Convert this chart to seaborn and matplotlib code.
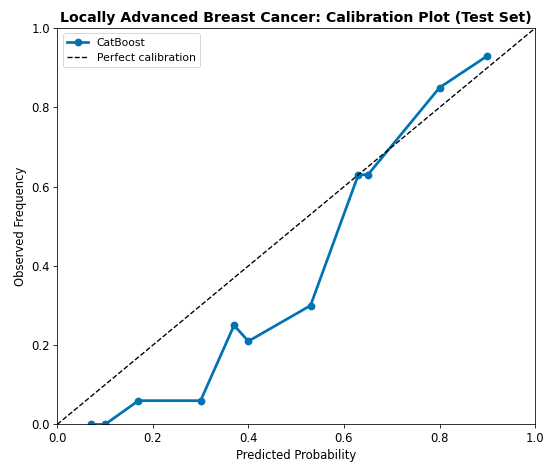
import matplotlib
matplotlib.use("Agg")
import matplotlib.pyplot as plt
import seaborn as sns
import pandas as pd

pred_prob = [0.07, 0.10, 0.17, 0.30, 0.37, 0.40, 0.53, 0.63, 0.65, 0.80, 0.90]
obs_freq = [0.00, 0.00, 0.06, 0.06, 0.25, 0.21, 0.30, 0.63, 0.63, 0.85, 0.93]
diag = [0.0, 1.0]

plt.rcParams['font.family'] = ['DejaVu Sans']

df = pd.DataFrame({"pred": pred_prob, "obs": obs_freq})
color = sns.color_palette("colorblind")[0]

DPI = 70
fig = plt.figure(figsize=(550 / DPI, 469 / DPI), dpi=DPI)
ax = fig.add_axes([0.104, 0.095, 0.869, 0.845])
sns.lineplot(data=df, x="pred", y="obs", marker="o", color=color, linewidth=2.8,
             markersize=8, markeredgewidth=0, label="CatBoost", ax=ax, sort=False)
sns.lineplot(x=diag, y=diag, color="black", linestyle="--", linewidth=1.4,
             label="Perfect calibration", ax=ax)
ax.set_xlim(0, 1)
ax.set_ylim(0, 1)
ax.set_xlabel("Predicted Probability", fontsize=12)
ax.set_ylabel("Observed Frequency", fontsize=12)
ax.set_title("Locally Advanced Breast Cancer: Calibration Plot (Test Set)", fontsize=14.5, fontweight="bold")
ax.tick_params(labelsize=12, length=4)
ax.legend(loc="upper left", fontsize=11)
fig.savefig("out.png", dpi=DPI)
